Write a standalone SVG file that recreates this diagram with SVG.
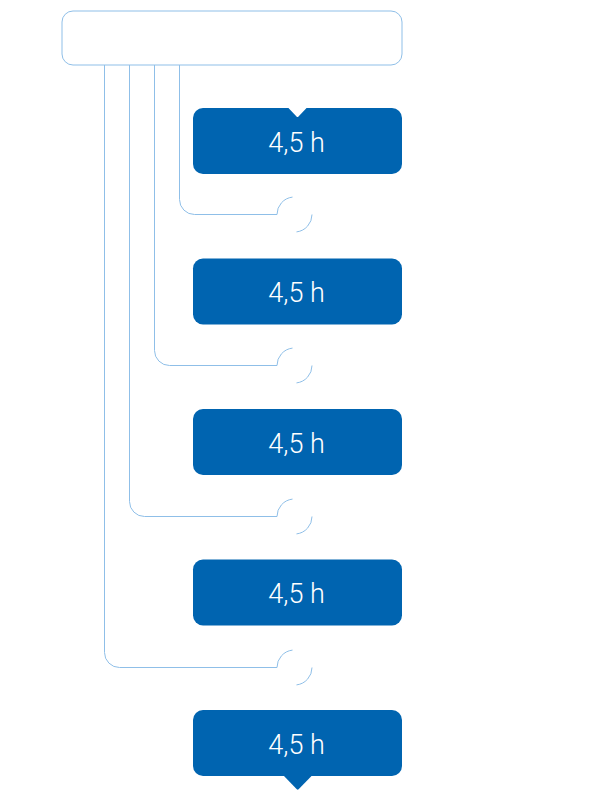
<svg xmlns="http://www.w3.org/2000/svg" width="600" height="800" viewBox="0 0 600 800">
  <style>
    .hdr { fill: #ffffff; stroke: #8fbfe8; stroke-width: 1; }
    .box { fill: #0064b0; }
    .lbl { fill: #ffffff; font-family: Roboto, "Open Sans", "Liberation Sans", sans-serif; font-size: 27px; font-weight: 300; text-anchor: middle; }
    .conn { fill: none; stroke: #8fbfe8; stroke-width: 1; }
  </style>
  <rect width="600" height="800" fill="#ffffff"/>

  <g id="header">
    <rect class="hdr" x="62" y="11" width="340" height="54" rx="11" ry="11"/>
  </g>

  <g id="connectors">
    <path class="conn" d="M179.5,65 V199.5 A15,15 0 0 0 194.5,214.5 H277 A17.5,17.5 0 0 1 292.5,197.1"/>
    <path class="conn" d="M312,214.5 A17.5,17.5 0 0 1 296.5,231.9"/>
    <path class="conn" d="M154.5,65 V350.5 A15,15 0 0 0 169.5,365.5 H277 A17.5,17.5 0 0 1 292.5,348.1"/>
    <path class="conn" d="M312,365.5 A17.5,17.5 0 0 1 296.5,382.9"/>
    <path class="conn" d="M129.5,65 V501.5 A15,15 0 0 0 144.5,516.5 H277 A17.5,17.5 0 0 1 292.5,499.1"/>
    <path class="conn" d="M312,516.5 A17.5,17.5 0 0 1 296.5,533.9"/>
    <path class="conn" d="M104.5,65 V652.5 A15,15 0 0 0 119.5,667.5 H277 A17.5,17.5 0 0 1 292.5,650.1"/>
    <path class="conn" d="M312,667.5 A17.5,17.5 0 0 1 296.5,684.9"/>
  </g>

  <g id="step1">
    <rect class="box" x="193" y="108" width="209" height="66" rx="10" ry="10"/>
    <path d="M287.5,107 L307.5,107 L298.5,116.5 Q297.5,117.6 296.5,116.5 Z" fill="#ffffff"/>
    <text class="lbl" x="296.5" y="151.5">4,5 h</text>
  </g>
  <g id="step2">
    <rect class="box" x="193" y="258.5" width="209" height="66" rx="10" ry="10"/>
    <text class="lbl" x="296.5" y="302">4,5 h</text>
  </g>
  <g id="step3">
    <rect class="box" x="193" y="409" width="209" height="66" rx="10" ry="10"/>
    <text class="lbl" x="296.5" y="452.5">4,5 h</text>
  </g>
  <g id="step4">
    <rect class="box" x="193" y="559.5" width="209" height="66" rx="10" ry="10"/>
    <text class="lbl" x="296.5" y="603">4,5 h</text>
  </g>
  <g id="step5">
    <rect class="box" x="193" y="710" width="209" height="66" rx="10" ry="10"/>
    <path class="box" d="M283,775 L312.5,775 L298.6,789.2 Q297.7,790.1 296.8,789.2 Z"/>
    <text class="lbl" x="296.5" y="753.5">4,5 h</text>
  </g>
</svg>
